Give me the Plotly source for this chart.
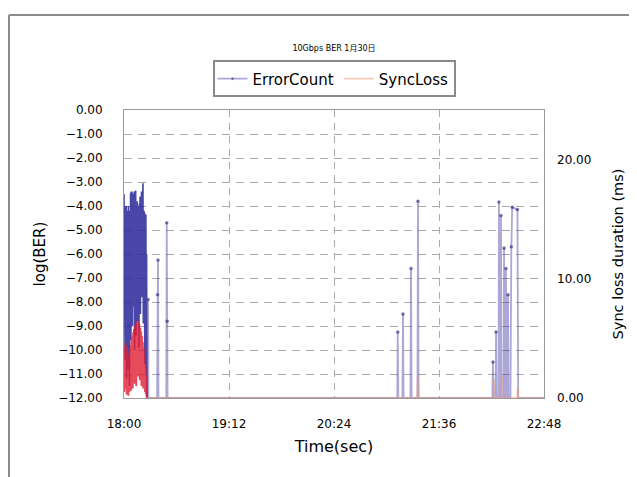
import pandas as pd
import plotly.graph_objects as go

# ---------------- data ----------------
start_time = "2013-01-30 18:00:00"
x_tick_labels = ["18:00", "19:12", "20:24", "21:36", "22:48"]

# ErrorCount burst right after 18:00: minutes after 18:00, log(BER)
err_burst_minutes = [
    0.00, 0.25, 0.50, 0.75, 1.00, 1.25, 1.50, 1.75, 2.00, 2.25, 2.50, 2.75,
    3.00, 3.25, 3.50, 3.75, 4.00, 4.25, 4.50, 4.75, 5.00, 5.25, 5.50, 5.75,
    6.00, 6.25, 6.50, 6.75, 7.00, 7.25, 7.50, 7.75, 8.00, 8.25, 8.50, 8.75,
    9.00, 9.25, 9.50, 9.75, 10.00, 10.25, 10.50, 10.75, 11.00, 11.25, 11.50, 11.75,
    12.00, 12.25, 12.50, 12.75, 13.00, 13.25, 13.50, 13.75, 14.00, 14.25, 14.50, 14.75,
    15.00, 15.25, 15.50, 15.75,
]
err_burst_log_ber = [
    -3.50, -9.80, -3.55, -10.40, -4.10, -9.20, -4.00, -11.20, -4.30, -8.60, -4.20, -10.80,
    -4.00, -9.00, -4.40, -11.50, -4.20, -8.00, -3.45, -9.60, -3.40, -7.50, -3.40, -9.00,
    -3.90, -6.80, -3.50, -8.20, -3.40, -10.00, -3.60, -7.20, -3.35, -9.40, -4.20, -6.50,
    -3.80, -8.80, -4.00, -7.00, -4.30, -9.90, -3.90, -6.20, -3.60, -8.50, -3.70, -5.90,
    -3.40, -7.80, -4.10, -6.40, -3.05, -8.90, -4.20, -7.50, -4.30, -10.60, -4.35, -9.00,
    -4.40, -11.00, -6.00, -12.00,
]

# ErrorCount for the rest of the run
err_minutes = [
    15.75, 16.20, 16.50, 16.80,
    22.70, 23.00, 23.30, 23.60,
    29.00, 29.30, 29.60, 29.90,
    187.4, 187.7, 188.1, 188.4, 190.9, 191.3, 191.7,
    196.4, 196.8, 197.2,
    201.2, 201.6, 202.0,
    252.6, 253.0, 253.4, 254.8, 255.1, 255.5, 256.8, 257.1, 257.5,
    258.2, 258.5, 258.9, 260.3, 260.6, 261.0, 261.6, 261.9, 262.3,
    263.0, 263.3, 263.7, 265.0, 265.6, 266.2, 269.8, 270.3,
    288.0,
]
err_log_ber = [
    -12.00, -12.00, -7.90, -12.00,
    -12.00, -7.70, -6.25, -12.00,
    -12.00, -4.70, -8.80, -12.00,
    -12.00, -9.25, -12.00, -12.00, -12.00, -8.50, -12.00,
    -12.00, -6.60, -12.00,
    -12.00, -3.80, -12.00,
    -12.00, -10.50, -12.00, -12.00, -9.25, -12.00, -12.00, -3.83, -12.00,
    -12.00, -4.40, -12.00, -12.00, -5.75, -12.00, -12.00, -6.60, -12.00,
    -12.00, -7.70, -12.00, -12.00, -5.70, -4.05, -4.15, -12.00,
    -12.00,
]

# SyncLoss burst: minutes after 18:00, duration (ms)
sync_burst_minutes = [
    0.0, 0.3, 0.6, 0.9, 1.2, 1.5, 1.8, 2.1, 2.4, 2.7, 3.0, 3.3, 3.6, 3.9, 4.2, 4.5,
    4.8, 5.1, 5.4, 5.7, 6.0, 6.3, 6.6, 6.9, 7.2, 7.5, 7.8, 8.1, 8.4, 8.7, 9.0, 9.3,
    9.6, 9.9, 10.2, 10.5, 10.8, 11.1, 11.4, 11.7, 12.0, 12.3, 12.6, 12.9, 13.2, 13.5,
    13.8, 14.1, 14.4, 14.7, 15.0, 15.3, 15.6,
]
sync_burst_ms = [
    0.5, 3.8, 1.0, 4.6, 0.8, 3.4, 0.3, 4.3, 1.2, 3.0, 0.2, 3.6, 0.5, 4.0, 1.0, 4.4,
    0.6, 4.8, 1.5, 5.2, 0.8, 5.5, 2.0, 5.8, 1.2, 6.0, 2.2, 6.2, 1.0, 6.4, 2.5, 6.5,
    1.8, 6.3, 2.0, 6.2, 1.5, 5.9, 2.4, 5.6, 1.0, 5.2, 2.0, 4.7, 0.8, 4.2,
    1.5, 3.6, 0.5, 2.8, 0.3, 1.8, 0.0,
]

# SyncLoss for the rest of the run
sync_minutes = [
    15.6, 201.2, 201.6, 202.0,
    253.8, 254.2, 254.6, 259.0, 259.4, 259.8, 269.6, 270.0, 270.4,
    288.0,
]
sync_ms = [
    0.0, 0.0, 1.8, 0.0,
    0.0, 1.6, 0.0, 0.0, 1.9, 0.0, 0.0, 1.0, 0.0,
    0.0,
]

# ---------------- figure ----------------
t0 = pd.Timestamp(start_time)


def to_time(minutes):
    return [t0 + pd.Timedelta(minutes=m) for m in minutes]


tick_vals = to_time([72 * i for i in range(len(x_tick_labels))])

FONT = "DejaVu Sans, Noto Sans CJK JP, sans-serif"
ERR_LIGHT = "rgba(70,60,165,0.45)"
ERR_DARK = "rgba(40,38,150,0.85)"
SYNC_LIGHT = "rgba(240,150,110,0.5)"
SYNC_DARK = "rgba(225,30,50,0.8)"

fig = go.Figure()
fig.add_trace(go.Scatter(
    x=to_time(err_burst_minutes), y=err_burst_log_ber, name="ErrorCount",
    mode="lines", line=dict(color=ERR_DARK, width=1.6),
    legendgroup="err", showlegend=False, yaxis="y",
))
fig.add_trace(go.Scatter(
    x=to_time(err_minutes), y=err_log_ber, name="ErrorCount", mode="lines+markers",
    line=dict(color=ERR_LIGHT, width=1.8),
    marker=dict(size=[3 if v > -12 else 0 for v in err_log_ber],
                color="rgba(40,35,100,0.9)"),
    legendgroup="err", yaxis="y",
))
fig.add_trace(go.Scatter(
    x=to_time(sync_burst_minutes), y=sync_burst_ms, name="SyncLoss", mode="lines",
    line=dict(color=SYNC_DARK, width=2),
    legendgroup="sync", showlegend=False, yaxis="y2",
))
fig.add_trace(go.Scatter(
    x=to_time(sync_minutes), y=sync_ms, name="SyncLoss", mode="lines",
    line=dict(color=SYNC_LIGHT, width=1.8),
    legendgroup="sync", yaxis="y2",
))

# The page body adds an 8px offset, so the figure is 8px smaller
# and the margins are measured from that offset.
W, H = 629, 469
L, T, PW, PH = 116, 102, 420, 288

GRID = "#ababab"
fig.update_layout(
    width=W, height=H,
    margin=dict(l=L, r=W - L - PW, t=T, b=H - T - PH, autoexpand=False),
    paper_bgcolor="white", plot_bgcolor="white",
    font=dict(family=FONT, color="#000"),
    title=dict(text="10Gbps BER 1月30日", x=0.5, xref="paper", xanchor="center",
               y=1 - 40 / H, yanchor="middle", font=dict(size=8)),
    showlegend=True,
    legend=dict(orientation="h", x=0.5, xanchor="center", y=1.172, yanchor="top",
                bordercolor="#8a8a8a", borderwidth=2, font=dict(size=15),
                itemwidth=30, tracegroupgap=0),
    xaxis=dict(
        type="date", range=[tick_vals[0], tick_vals[-1]],
        tickmode="array", tickvals=tick_vals, ticktext=x_tick_labels,
        showgrid=True, gridcolor=GRID, griddash="7px,6px", gridwidth=1,
        showline=True, linecolor="#9a9a9a", linewidth=1, mirror=True,
        ticks="", tickfont=dict(size=12), ticklabelstandoff=15,
        title=dict(text="Time(sec)", font=dict(size=16), standoff=10),
    ),
    yaxis=dict(
        range=[-12, 0], dtick=1, tickformat=".2f",
        showgrid=True, gridcolor=GRID, griddash="8px,6px", gridwidth=1,
        showline=True, linecolor="#9a9a9a", linewidth=1, mirror=True,
        zeroline=False, ticks="", tickfont=dict(size=12), ticklabelstandoff=18,
        title=dict(text="log(BER)", font=dict(size=15), standoff=8),
    ),
    yaxis2=dict(
        range=[0, 24.2], dtick=10, tickformat=".2f", overlaying="y", side="right",
        showgrid=False, zeroline=False, ticks="", tickfont=dict(size=12),
        ticklabelstandoff=12,
        title=dict(text="Sync loss duration (ms)", font=dict(size=14.5), standoff=22),
    ),
)

# outer frame (left and top edges of the surrounding border)
fx = (1 - L) / PW
fy = (T + PH - 7) / PH
fig.add_shape(type="line", xref="paper", yref="paper", x0=fx, x1=fx, y0=fy, y1=-0.4,
              line=dict(color="#8c8c8c", width=2))
fig.add_shape(type="line", xref="paper", yref="paper", x0=fx, x1=1.5, y0=fy, y1=fy,
              line=dict(color="#8c8c8c", width=2))

fig.write_html("out.html")
